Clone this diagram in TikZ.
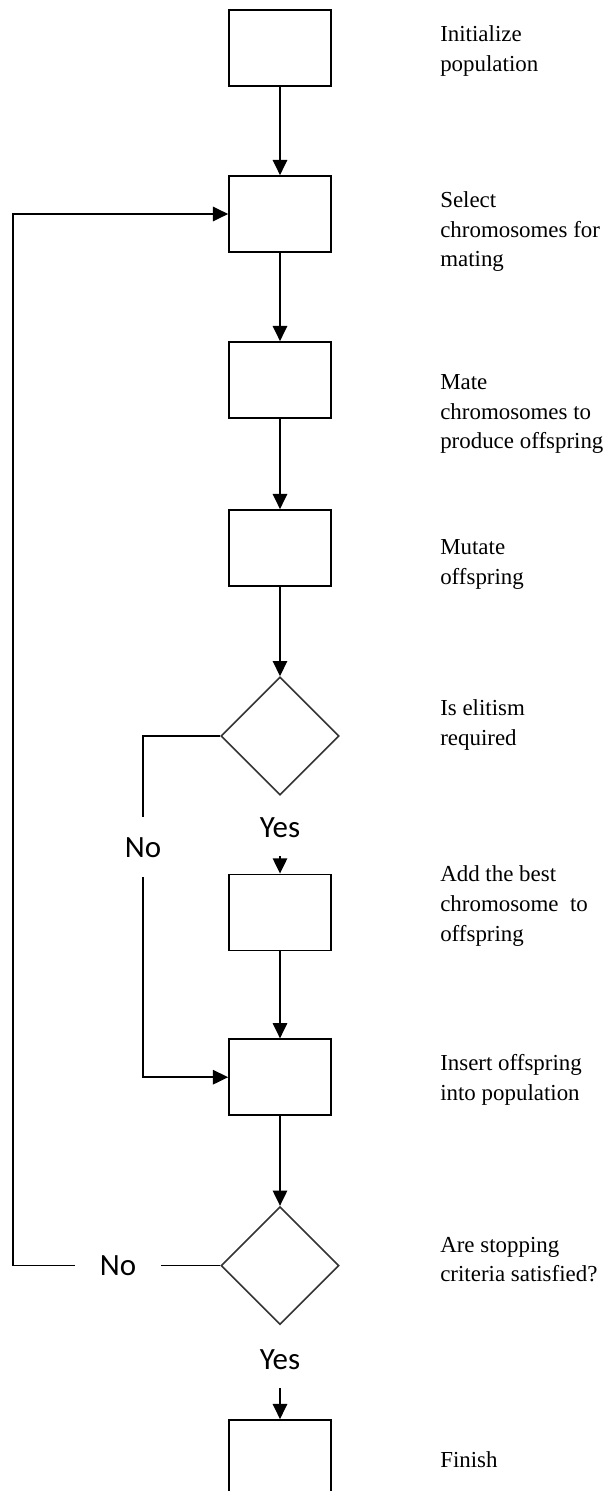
\documentclass[tikz,border=0pt]{standalone}
\usepackage{fontspec}
\setmainfont{Liberation Serif}
\newfontfamily\answerfont{Carlito}
\usepackage{xcolor}
\usepackage{tikz}
\usetikzlibrary{arrows.meta,positioning,shapes.geometric}
\tikzset{
  procbox/.style={rectangle, draw=black, line width=1.2pt, minimum width=2.55cm, minimum height=1.9cm, inner sep=0pt},
  decision/.style={diamond, draw=black!80, line width=1.1pt, minimum width=2.95cm, minimum height=2.95cm, aspect=1, inner sep=0pt},
  desc/.style={anchor=west, align=left, inner sep=0pt, font=\fontsize{16.3}{21}\selectfont},
  answer/.style={inner sep=0pt, font=\answerfont\fontsize{22}{26}\selectfont},
  flowline/.style={line width=1.1pt, black},
  flowarrow/.style={line width=1.1pt, black, -{Triangle[length=3.8mm,width=3.6mm]}}
}

\begin{document}
\begin{tikzpicture}[scale=1]
  \useasboundingbox (0,0) rectangle (15.2,-37.275);

  % main column
  \node[procbox] (init) at (7.0,-1.2) {};
  \node[procbox] (select) at (7.0,-5.35) {};
  \node[procbox] (mate) at (7.0,-9.5) {};
  \node[procbox] (mutate) at (7.0,-13.7) {};
  \node[decision] (elite) at (7.0,-18.4) {};
  \node[procbox] (addbest) at (7.0,-22.81) {};
  \node[procbox] (insert) at (7.0,-26.93) {};
  \node[decision] (stop) at (7.0,-31.64) {};
  \node[procbox] (finish) at (7.0,-36.45) {};

  % yes / no labels
  \node[answer] (yesA) at (7.0,-20.7) {Yes};
  \node[answer, minimum height=1.5cm] (noA) at (3.575,-21.18) {No};
  \node[answer] (yesB) at (7.0,-34.0) {Yes};
  \node[answer, minimum width=2.15cm] (noB) at (2.95,-31.64) {No};
  \coordinate (back) at (0.33,-31.64);

  \draw[flowarrow] (init) -- (select);
  \draw[flowarrow] (select) -- (mate);
  \draw[flowarrow] (mate) -- (mutate);
  \draw[flowarrow] (mutate) -- (elite);
  \draw[flowarrow, shorten <=0.45cm] (yesA) -- (addbest);
  \draw[flowarrow] (addbest) -- (insert);
  \draw[flowarrow] (insert) -- (stop);
  \draw[flowarrow, shorten <=0.45cm] (yesB) -- (finish);

  % elitism skipped
  \draw[flowline] (elite) -| (noA);
  \draw[flowarrow] (noA) |- (insert);

  % loop back to selection
  \draw[flowline] (stop) -- (noB);
  \draw[flowarrow] (noB) -- (back) |- (select);

  % step descriptions
  \node[desc] (tInit) at (11.0,-1.275) {Initialize\\population};
  \node[desc] (tSelect) at (11.0,-5.79) {Select\\chromosomes for\\mating};
  \node[desc] (tMate) at (11.0,-10.36) {Mate\\chromosomes to\\produce offspring};
  \node[desc] (tMutate) at (11.0,-14.11) {Mutate\\offspring};
  \node[desc] (tElite) at (11.0,-18.13) {Is elitism\\required};
  \node[desc] (tAdd) at (11.0,-22.65) {Add the best\\chromosome \ to\\offspring};
  \node[desc] (tInsert) at (11.0,-27.0) {Insert offspring\\into population};
  \node[desc] (tStop) at (11.0,-31.49) {Are stopping\\criteria satisfied?};
  \node[desc] (tFinish) at (11.0,-36.5) {Finish};
\end{tikzpicture}
\end{document}
